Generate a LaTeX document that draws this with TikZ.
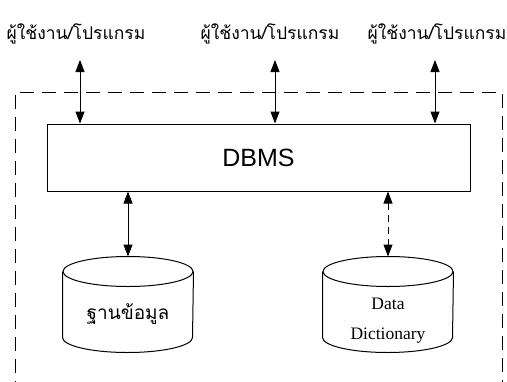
\documentclass[tikz,border=0pt]{standalone}
\usepackage{fontspec}
\setmainfont{Liberation Serif}
\newfontfamily\thaifont[Script=Thai]{Loma}
\newfontfamily\arialfont{Liberation Sans}
\usetikzlibrary{arrows.meta}
% outline of a drum-shaped data store around a named node
\newcommand\drumoutline[1]{%
  \draw ([yshift=-15pt]#1.north) ellipse [x radius=65, y radius=15];
  \draw ([yshift=-15pt]#1.north west) -- ([yshift=15pt]#1.south west)
    arc[start angle=180, end angle=0, x radius=65, y radius=15]
    -- ([yshift=-15pt]#1.north east);}
\begin{document}
\begin{tikzpicture}[x=1pt,y=-1pt,
  line width=1pt,
  twoway/.style={{Triangle[length=12pt,width=9pt]}-{Triangle[length=12pt,width=9pt]}},
  userlabel/.style={font=\thaifont\fontsize{17.5}{20}\selectfont, inner sep=0pt},
  dbbox/.style={draw, minimum width=423pt, minimum height=67pt, inner sep=0pt,
    font=\arialfont\fontsize{25}{28}\selectfont},
  store/.style={minimum width=130pt, minimum height=95pt, inner sep=0pt}
]
\useasboundingbox (0,0) rectangle (507,381);
\clip (0,0) rectangle (507,381);
\fill[white] (0,0) rectangle (507,381);

% system boundary (runs past the lower edge)
\draw[dash pattern=on 14pt off 8pt] (15,395) -- (15,92) -- (502,92) -- (502,395);

% users / programs
\node[userlabel] (u1) at (76,34) {ผู้ใช้งาน/โปรแกรม};
\node[userlabel] (u2) at (270,34) {ผู้ใช้งาน/โปรแกรม};
\node[userlabel] (u3) at (437,34) {ผู้ใช้งาน/โปรแกรม};

% DBMS
\node[dbbox] (dbms) at (258.5,157.5) {DBMS};

% stores
\node[store] (db) at (128,304.5) {};
\drumoutline{db}
\node[font=\thaifont\fontsize{19}{22}\selectfont, inner sep=0pt] (dbtext) at (128,314) {ฐานข้อมูล};
\node[store] (dd) at (388,304.5) {};
\drumoutline{dd}
\node[font=\fontsize{17.5}{20}\selectfont, inner sep=0pt] (ddtext1) at (388,304) {Data};
\node[font=\fontsize{17.5}{20}\selectfont, inner sep=0pt] (ddtext2) at (388,336) {Dictionary};

% connectors
\coordinate (a1) at (80,60);
\coordinate (a2) at (275,60);
\coordinate (a3) at (435,60);
\draw[twoway] (a1) -- (a1 |- dbms.north);
\draw[twoway] (a2) -- (a2 |- dbms.north);
\draw[twoway] (a3) -- (a3 |- dbms.north);
\draw[twoway] (db.north |- dbms.south) -- (db.north);
\draw[twoway, dash pattern=on 7pt off 5pt] (dd.north |- dbms.south) -- (dd.north);
\end{tikzpicture}
\end{document}
